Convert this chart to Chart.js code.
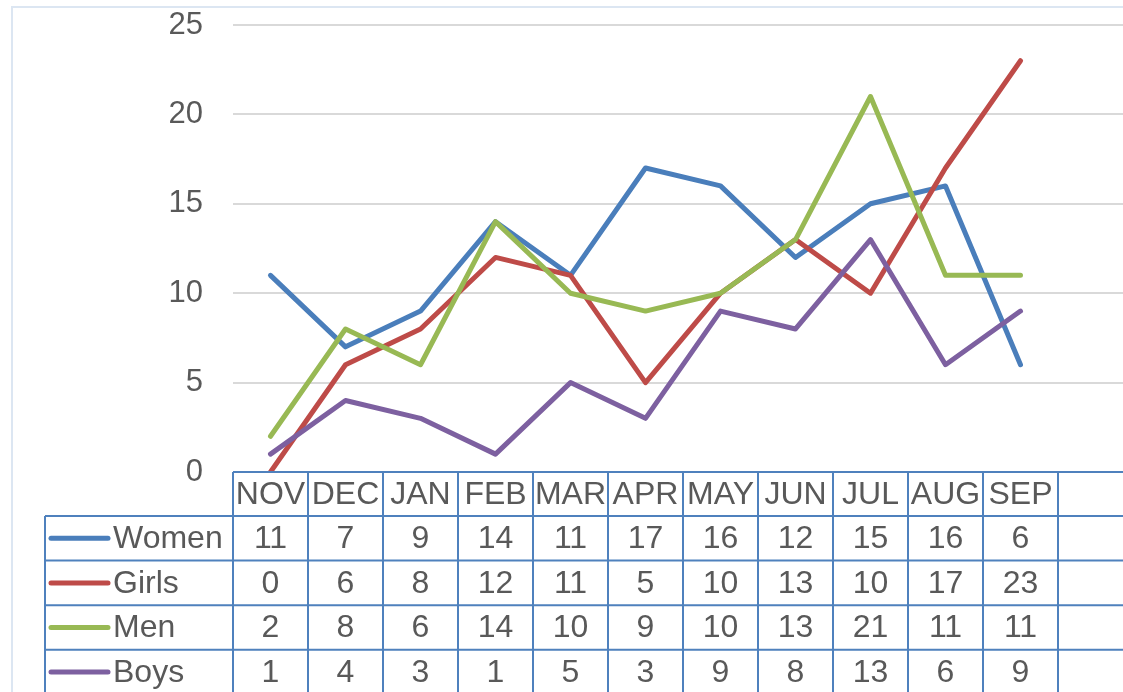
<!DOCTYPE html>
<html>
<head>
<meta charset="utf-8">
<script src="https://cdn.jsdelivr.net/npm/chart.js@4.4.1/dist/chart.umd.min.js"></script>
<style>
  html, body { margin: 0; padding: 0; overflow: hidden; background: #fff; width: 1123px; height: 692px; }
  #wrap { position: absolute; left: 0; top: 0; width: 1140px; height: 700px; }
</style>
</head>
<body>
<div id="wrap"><canvas id="c" width="1140" height="700"></canvas></div>
<script>
// ---- Data ----
const categories = ['NOV','DEC','JAN','FEB','MAR','APR','MAY','JUN','JUL','AUG','SEP'];
const seriesNames = ['Women','Girls','Men','Boys'];
const women = [11, 7, 9, 14, 11, 17, 16, 12, 15, 16, 6];
const girls = [0, 6, 8, 12, 11, 5, 10, 13, 10, 17, 23];
const men   = [2, 8, 6, 14, 10, 9, 10, 13, 21, 11, 11];
const boys  = [1, 4, 3, 1, 5, 3, 9, 8, 13, 6, 9];
const yTicks = [0, 5, 10, 15, 20, 25];

// ---- Styles ----
const colors = ['#4A7EBB', '#BE4B48', '#98B954', '#7D60A0'];
const textColor = '#595959';
const fontFamily = '"Liberation Sans", Arial, sans-serif';
const tableColor = '#4F81BD';

const labels = categories.concat(['']); // extra empty column as in the reference table
const allSeries = [women, girls, men, boys];

const datasets = allSeries.map((vals, i) => ({
  label: seriesNames[i],
  data: vals,
  borderColor: colors[i],
  backgroundColor: colors[i],
  borderWidth: 5,
  pointRadius: 0,
  tension: 0,
  fill: false,
  borderCapStyle: 'round',
  borderJoinStyle: 'round',
  order: allSeries.length - i
}));

const framePlugin = {
  id: 'frame',
  beforeDraw(chart) {
    const ctx = chart.ctx;
    ctx.save();
    ctx.strokeStyle = '#DCE6F2';
    ctx.lineWidth = 2;
    ctx.beginPath();
    ctx.moveTo(12, chart.height + 10);
    ctx.lineTo(12, 7);
    ctx.lineTo(chart.width + 10, 7);
    ctx.stroke();
    ctx.restore();
  }
};

const tablePlugin = {
  id: 'dataTable',
  afterDraw(chart) {
    const ctx = chart.ctx;
    const xs = chart.scales.x;
    const area = chart.chartArea;
    const n = labels.length;
    const w = (xs.right - xs.left) / n;
    const top = area.bottom;
    const headerH = 44;
    const rowH = 44.6;
    const legendLeft = 45;
    const right = chart.width + 5;
    const rowsBottom = top + headerH + rowH * seriesNames.length;

    ctx.save();
    ctx.strokeStyle = tableColor;
    ctx.lineWidth = 2;
    ctx.beginPath();
    ctx.moveTo(xs.left, top); ctx.lineTo(right, top);
    for (let r = 0; r <= seriesNames.length; r++) {
      const y = top + headerH + rowH * r;
      ctx.moveTo(legendLeft, y); ctx.lineTo(right, y);
    }
    for (let i = 0; i <= n; i++) {
      const x = xs.left + w * i;
      ctx.moveTo(x, top); ctx.lineTo(x, rowsBottom);
    }
    ctx.moveTo(legendLeft, top + headerH); ctx.lineTo(legendLeft, rowsBottom);
    ctx.stroke();

    ctx.fillStyle = textColor;
    ctx.font = '32px ' + fontFamily;
    ctx.textBaseline = 'middle';
    ctx.textAlign = 'center';
    categories.forEach((c, i) => {
      ctx.fillText(c, xs.getPixelForValue(i), top + headerH / 2 + 1);
    });
    allSeries.forEach((vals, r) => {
      const yc = top + headerH + rowH * r + rowH / 2 + 1;
      vals.forEach((v, i) => {
        ctx.fillText(String(v), xs.getPixelForValue(i), yc);
      });
    });
    ctx.textAlign = 'left';
    seriesNames.forEach((name, r) => {
      const yc = top + headerH + rowH * r + rowH / 2;
      ctx.strokeStyle = colors[r];
      ctx.lineWidth = 5;
      ctx.lineCap = 'round';
      ctx.beginPath();
      ctx.moveTo(51, yc); ctx.lineTo(108, yc);
      ctx.stroke();
      ctx.fillStyle = textColor;
      ctx.fillText(name, 113, yc + 1);
    });
    ctx.restore();
  }
};

new Chart(document.getElementById('c'), {
  type: 'line',
  data: { labels: labels, datasets: datasets },
  options: {
    responsive: false,
    animation: false,
    layout: { padding: { top: 25, right: 7, bottom: 228, left: 0 } },
    plugins: { legend: { display: false }, tooltip: { enabled: false } },
    scales: {
      x: { display: false, offset: true },
      y: {
        min: 0, max: 25,
        afterBuildTicks(scale) { scale.ticks = yTicks.map(v => ({ value: v })); },
        afterFit(scale) { scale.width = 233; scale.paddingTop = 0; scale.paddingBottom = 0; },
        border: { display: false },
        grid: { color: '#D9D9D9', lineWidth: 2, drawTicks: false },
        ticks: { color: textColor, padding: 30, font: { family: fontFamily, size: 31 } }
      }
    }
  },
  plugins: [framePlugin, tablePlugin]
});
</script>
</body>
</html>
